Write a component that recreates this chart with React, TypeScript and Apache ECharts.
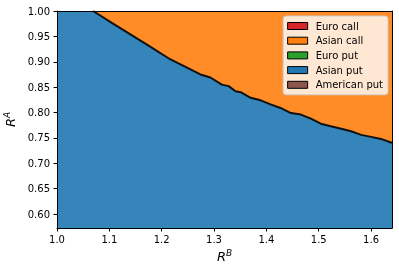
import React, { useEffect, useRef } from "react";
import * as echarts from "echarts";

// Boundary between Asian put (below) and Asian call (above) regions
const boundaryX = [1.069, 1.104, 1.178, 1.216, 1.274, 1.293, 1.315, 1.328, 1.341, 1.351, 1.370, 1.389, 1.408, 1.427, 1.447, 1.466, 1.485, 1.504, 1.523, 1.543, 1.562, 1.581, 1.600, 1.619, 1.638, 1.640];
const boundaryY = [1.000, 0.977, 0.930, 0.905, 0.875, 0.869, 0.855, 0.852, 0.842, 0.840, 0.829, 0.824, 0.816, 0.809, 0.799, 0.796, 0.788, 0.778, 0.773, 0.768, 0.763, 0.756, 0.752, 0.748, 0.741, 0.740];

const legendNames = ["Euro call", "Asian call", "Euro put", "Asian put", "American put"];
const legendColors = ["#d62728", "#ff7f0e", "#2ca02c", "#1f77b4", "#8c564b"];

const xMin = 1.0;
const xMax = 1.64;
const yMin = 0.5725;
const yMax = 1.0;
const yTicks = [0.6, 0.65, 0.7, 0.75, 0.8, 0.85, 0.9, 0.95, 1.0];

const FONT = "DejaVu Sans";

export default function App() {
  const ref = useRef<HTMLDivElement>(null);
  useEffect(() => {
    if (!ref.current) return;
    const chart = echarts.init(ref.current, null, { renderer: "svg" });
    const boundary = boundaryX.map((x, i) => [x, boundaryY[i]]);
    const putArea = [[xMin, yMax], ...boundary];
    const callArea = [[xMin, yMax], [xMax, yMax]];
    const axisCommon = {
      z: 10,
      axisLine: { show: true, lineStyle: { color: "#000", width: 1 } },
      splitLine: { show: false },
    };
    chart.setOption({
      animation: false,
      grid: { left: 57, right: 7, top: 11, bottom: 45, containLabel: false, outerBoundsMode: "none" },
      legend: {
        orient: "vertical",
        right: 11,
        top: 16,
        icon: "rect",
        itemWidth: 20,
        itemHeight: 7,
        itemGap: 2.7,
        padding: [4, 5, 4, 4],
        backgroundColor: "rgba(255,255,255,0.8)",
        borderColor: "#cccccc",
        borderWidth: 1,
        borderRadius: 3,
        selectedMode: false,
        textStyle: { fontFamily: FONT, fontSize: 10, color: "#000", lineHeight: 12, padding: [0, 0, 0, 3] },
        data: legendNames.map((n, i) => ({
          name: n,
          icon: "rect",
          itemStyle: { color: legendColors[i], borderColor: "#000", borderWidth: 1, opacity: 1 },
        })),
      },
      xAxis: [
        {
          ...axisCommon,
          type: "value",
          min: xMin,
          max: xMax,
          interval: 0.1,
          axisTick: { show: true, length: 3.5, lineStyle: { color: "#000" } },
          axisLabel: {
            fontFamily: FONT,
            fontSize: 10,
            color: "#000",
            margin: 6,
            showMaxLabel: false,
            formatter: (v: number) => (v > 1.635 ? "" : v.toFixed(1)),
          },
          name: "{r|R}{s|B}",
          nameLocation: "middle",
          nameGap: 20,
          nameTextStyle: {
            rich: {
              r: { fontFamily: FONT, fontStyle: "italic", fontSize: 13, color: "#000", lineHeight: 16 },
              s: { fontFamily: FONT, fontStyle: "italic", fontSize: 9, color: "#000", verticalAlign: "top", lineHeight: 10 },
            },
          },
        },
        {
          ...axisCommon,
          type: "value",
          position: "top",
          min: xMin,
          max: xMax,
          axisTick: { show: false },
          axisLabel: { show: false },
        },
      ],
      yAxis: [
        {
          ...axisCommon,
          type: "value",
          min: yMin,
          max: yMax,
          axisTick: { show: true, length: 3.5, lineStyle: { color: "#000" }, customValues: yTicks },
          axisLabel: {
            fontFamily: FONT,
            fontSize: 10,
            color: "#000",
            margin: 7,
            customValues: yTicks,
            formatter: (v: number) => v.toFixed(2),
          },
          name: "{r|R}{s|A}",
          nameLocation: "middle",
          nameGap: 37,
          nameTextStyle: {
            rich: {
              r: { fontFamily: FONT, fontStyle: "italic", fontSize: 13, color: "#000", lineHeight: 16 },
              s: { fontFamily: FONT, fontStyle: "italic", fontSize: 9, color: "#000", verticalAlign: "top", lineHeight: 10 },
            },
          },
        },
        {
          ...axisCommon,
          type: "value",
          position: "right",
          min: yMin,
          max: yMax,
          axisTick: { show: false },
          axisLabel: { show: false },
        },
      ],
      series: [
        {
          name: "Euro call",
          type: "line",
          data: [],
          itemStyle: { color: legendColors[0] },
        },
        {
          name: "Asian call",
          type: "line",
          data: callArea,
          symbol: "none",
          itemStyle: { color: legendColors[1] },
          lineStyle: { width: 0 },
          areaStyle: { color: "#ff8c26", opacity: 1, origin: "start" },
        },
        {
          name: "Euro put",
          type: "line",
          data: [],
          itemStyle: { color: legendColors[2] },
        },
        {
          name: "Asian put",
          type: "line",
          data: putArea,
          symbol: "none",
          itemStyle: { color: legendColors[3] },
          lineStyle: { width: 0 },
          areaStyle: { color: "#3585bb", opacity: 1, origin: "start" },
        },
        {
          name: "American put",
          type: "line",
          data: [],
          itemStyle: { color: legendColors[4] },
        },
        {
          name: "boundary",
          type: "line",
          data: boundary,
          symbol: "none",
          lineStyle: { color: "#111", width: 2 },
          z: 5,
        },
      ],
    });
    return () => chart.dispose();
  }, []);
  return <div ref={ref} style={{ position: "fixed", left: 0, top: 0, width: 399, height: 273 }} />;
}
